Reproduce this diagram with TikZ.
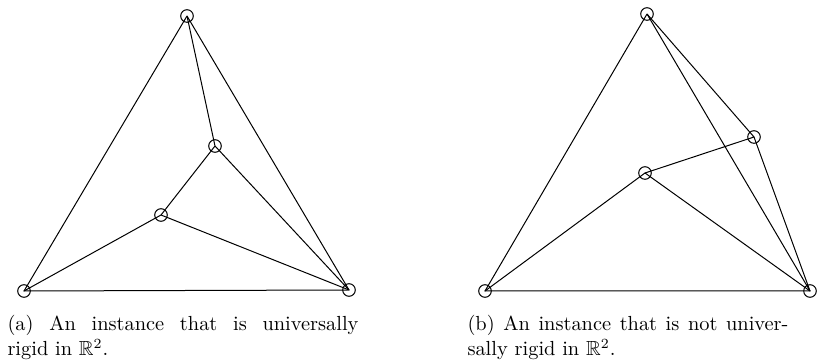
\documentclass[tikz,border=0pt]{standalone}
\usepackage{amsmath,amssymb}
\usepackage{xcolor}
\usepackage{tikz}

\begin{document}
\begin{tikzpicture}[x=0.5pt, y=-0.5pt, line width=0.5pt,
    vtx/.style={circle, draw, inner sep=0pt, minimum size=12.6pt*0.5},
    subcap/.style={anchor=base west, inner sep=0pt, align=justify,
      font=\fontsize{10.2pt}{12.15pt}\selectfont}]
  \useasboundingbox (0,0) rectangle (819,362);
  % (a) universally rigid
  \coordinate (aT) at (187,16);
  \coordinate (aM) at (215,146);
  \coordinate (aI) at (161,215);
  \coordinate (aL) at (24,291);
  \coordinate (aR) at (349,290);
  \draw (aT) -- (aL) -- (aR) -- (aT);
  \draw (aT) -- (aM) -- (aI) -- (aL);
  \draw (aM) -- (aR);
  \draw (aI) -- (aR);
  \foreach \v in {aT,aM,aI,aL,aR} \node[vtx] at (\v) {};
  \node[subcap, text width=175.5pt] (capa) at (7,331)
    {(a) An instance that is universally\linebreak rigid in $\mathbb{R}^2$.};
  % (b) not universally rigid
  \coordinate (bT) at (647,14);
  \coordinate (bM) at (754,137);
  \coordinate (bI) at (645,173);
  \coordinate (bL) at (485,291);
  \coordinate (bR) at (810,291);
  \draw (bT) -- (bL) -- (bR) -- (bT);
  \draw (bT) -- (bM) -- (bI) -- (bL);
  \draw (bM) -- (bR);
  \draw (bI) -- (bR);
  \foreach \v in {bT,bM,bI,bL,bR} \node[vtx] at (\v) {};
  \node[subcap, text width=160.5pt] (capb) at (467,331)
    {(b) An instance that is not univer-\linebreak sally rigid in $\mathbb{R}^2$.};
\end{tikzpicture}
\end{document}
